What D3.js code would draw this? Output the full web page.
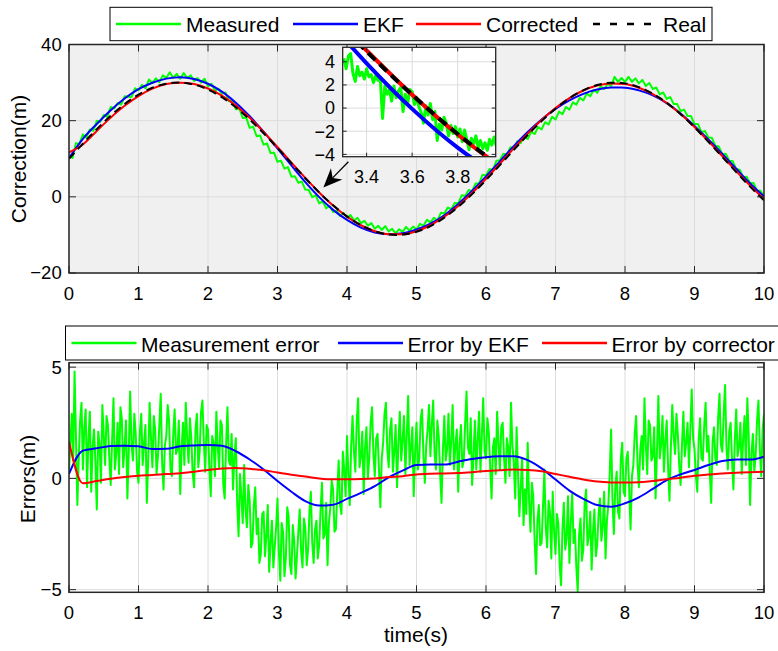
<!DOCTYPE html>
<html>
<head>
<meta charset="utf-8">
<script src="https://cdn.jsdelivr.net/npm/d3@7"></script>
<style>
  body { margin: 0; background: #fff; }
  svg { display: block; font-family: "Liberation Sans", Arial, Helvetica, sans-serif; }
</style>
</head>
<body>
<svg id="chart" width="778" height="651"></svg>
<script>
// ---- ticks / labels ----
const xTicks = [0, 1, 2, 3, 4, 5, 6, 7, 8, 9, 10];
const topYTicks = [-20, 0, 20, 40];
const errYTicks = [-5, 0, 5];
const insetXTicks = [3.4, 3.6, 3.8];
const insetYTicks = [-4, -2, 0, 2, 4];
const topLegend = ["Measured", "EKF", "Corrected", "Real"];
const errLegend = ["Measurement error", "Error by EKF", "Error by corrector"];

// ---- top panel series (position, m) ----
// real trajectory, every 0.1 s
const realPos = [
  10.00, 12.00, 13.97, 15.91, 17.79, 19.59, 21.29, 22.88, 24.35, 25.67,
  26.83, 27.82, 28.64, 29.27, 29.71, 29.95, 29.99, 29.83, 29.48, 28.93,
  28.19, 27.26, 26.17, 24.91, 23.51, 21.97, 20.31, 18.55, 16.70, 14.78,
  12.82, 10.83, 8.83, 6.85, 4.89, 2.98, 1.15, -0.60, -2.24, -3.76,
  -5.14, -6.37, -7.43, -8.32, -9.03, -9.55, -9.87, -10.00, -9.92, -9.65,
  -9.18, -8.52, -7.67, -6.65, -5.46, -4.11, -2.63, -1.01, 0.71, 2.52,
  4.41, 6.36, 8.34, 10.34, 12.33, 14.30, 16.23, 18.10, 19.88, 21.57,
  23.14, 24.58, 25.87, 27.01, 27.97, 28.76, 29.36, 29.76, 29.97, 29.98,
  29.79, 29.40, 28.81, 28.04, 27.09, 25.97, 24.69, 23.26, 21.70, 20.02,
  18.24, 16.38, 14.46, 12.49, 10.50, 8.50, 6.51, 4.56, 2.67, 0.85,
  -0.88
];
// EKF estimate, every 0.2 s
const ekfPos = [
  10.2, 15.22, 19.14, 22.75, 25.82, 28.27, 29.96, 31.04, 31.43, 30.96,
  29.69, 27.64, 24.73, 21.16, 17.10, 12.70, 8.23, 3.87, -0.07, -3.42,
  -6.06, -8.08, -9.38, -9.82, -9.57, -8.58, -7.05, -4.84, -1.88, 1.58,
  5.36, 9.33, 13.33, 17.05, 20.33, 23.09, 25.32, 27.05, 28.16, 28.70,
  28.67, 27.96, 26.62, 24.61, 21.88, 18.62, 15.06, 11.28, 7.36, 3.52,
  0.10
];
// corrected estimate, every 0.2 s
const correctedPos = [
  11.65, 13.75, 17.3, 20.8, 23.9, 26.45, 28.4, 29.6, 29.95, 29.6,
  28.45, 26.55, 23.95, 20.74, 17.07, 13.08, 8.99, 4.97, 1.15, -2.28,
  -5.18, -7.46, -9.03, -9.81, -9.82, -9.0, -7.46, -5.24, -2.39, 0.99,
  4.74, 8.71, 12.73, 16.61, 20.2, 23.34, 25.94, 27.92, 29.22, 29.79,
  29.6, 28.64, 26.97, 24.65, 21.73, 18.36, 14.63, 10.72, 6.76, 2.95,
  -0.58
];
// measured position, every 0.05 s
const measuredPos = [
  11.0, 10.2, 14.1, 13.9, 16.4, 15.6, 17.7, 17.3, 20.0, 19.7,
  21.5, 21.0, 23.6, 23.2, 24.6, 24.2, 26.4, 26.3, 26.2, 28.5,
  28.0, 29.4, 28.5, 30.8, 29.9, 31.1, 30.1, 31.9, 31.2, 32.7,
  31.2, 32.3, 31.0, 32.5, 31.2, 31.9, 30.4, 31.2, 30.0, 31.0,
  29.0, 29.7, 27.9, 28.4, 27.1, 27.4, 25.1, 25.3, 23.0, 23.2,
  20.7, 20.8, 18.1, 18.4, 15.9, 16.1, 13.7, 14.0, 11.5, 11.6,
  9.2, 9.5, 7.4, 7.8, 5.3, 5.4, 3.7, 4.0, 1.9, 1.8,
  -0.1, 0.4, -1.7, -1.2, -3.0, -2.4, -4.0, -3.6, -5.0, -4.2,
  -5.5, -4.8, -6.2, -5.5, -6.9, -6.3, -7.6, -6.9, -8.4, -7.6,
  -8.7, -7.7, -9.1, -8.4, -9.6, -8.5, -9.2, -7.9, -8.9, -7.8,
  -8.6, -7.1, -7.6, -6.0, -6.7, -5.5, -6.2, -4.2, -4.4, -2.8,
  -3.3, -1.6, -1.7, 0.4, 0.2, 1.8, 1.4, 3.5, 3.5, 5.8,
  5.6, 7.3, 7.0, 9.5, 9.6, 11.3, 11.1, 13.0, 12.8, 14.6,
  14.1, 15.9, 15.2, 17.1, 16.5, 18.3, 17.7, 19.6, 19.0, 21.0,
  20.3, 22.4, 21.7, 23.6, 22.9, 24.8, 24.2, 26.0, 25.3, 27.1,
  26.4, 28.1, 27.3, 29.0, 28.3, 29.7, 29.1, 31.5, 30.2, 31.2,
  30.2, 31.5, 30.2, 31.1, 29.8, 30.7, 29.1, 29.9, 28.3, 28.7,
  26.9, 27.4, 25.7, 26.2, 24.4, 24.4, 22.5, 22.9, 21.2, 21.2,
  19.1, 19.1, 17.0, 17.3, 15.6, 15.5, 13.4, 13.2, 11.2, 11.3,
  9.5, 9.4, 7.3, 7.1, 5.2, 5.3, 3.6, 3.6, 1.6, 1.6,
  0.1
];
// zoomed measured position for the inset, every 0.01 s from 3.30 s
const insetMeasured = [
  4.3, 3.4, 4.5, 4.7, 3.0, 2.3, 3.6, 2.8, 3.1, 2.5,
  3.4, 2.7, 2.9, 2.2, 2.8, 2.4, 2.6, -0.9, 1.9, 1.2,
  1.6, 0.6, 1.9, 0.9, 1.5, 1.8, -0.3, 1.2, 0.4, 1.6,
  1.4, 0.3, 0.9, 0.1, -0.4, -1.3, 0.2, -0.6, 0.4, -1.0,
  -0.3, -2.8, -1.4, -1.9, -0.8, -1.3, -2.4, -1.5, -2.2, -1.6,
  -2.5, -1.8, -2.9, -1.9, -2.7, -3.6, -2.6, -3.1, -2.4, -3.4,
  -2.8, -3.5, -3.0, -3.65, -2.7, -3.2, -2.5, -3.3
];

// ---- bottom panel series (error, m) ----
// measurement error, every 0.02 s
const measErr = [
  0.3, 1.6, 2.9, 0.8, 4.8, 1.9, -1.2, 0.9, 2.6, 3.4, 0.4, 2.3, 3.1, -0.4, 1.8, 3.0, -0.6, 1.4, 2.2, 0.7,
  -1.4, 2.1, 1.5, -0.2, 3.3, 1.9, 0.6, 2.8, 2.4, 0.9, -0.3, 1.7, 3.6, 0.4, 1.1, 2.5, 0.2, 3.2, 2.7, 0.5,
  1.4, 2.6, -0.9, 1.2, 3.9, 1.5, 0.8, 2.9, 2.0, 0.3, -0.2, 2.1, 2.9, 0.6, 1.6, 2.4, -1.1, 0.9, 3.4, 1.8,
  0.5, 2.8, 2.2, 0.2, 1.0, 2.4, 3.8, 0.7, -0.5, 1.5, 1.9, 3.3, 2.6, 0.4, 0.1, 2.0, 3.1, 1.1, 1.3, 2.6,
  -0.7, 1.3, 2.5, 0.6, 3.4, 1.8, 0.7, 2.7, 1.8, 0.2, -0.4, 2.2, 2.9, 0.5, 1.2, 3.0, 3.5, 1.6, 0.3, 2.4,
  2.2, 0.4, -0.8, 1.9, 1.6, 0.1, 3.0, 1.4, 0.5, 2.6, 2.4, -0.3, -0.9, 1.5, 3.2, 0.8, 0.6, 2.0, -0.5, 1.0,
  1.8, -1.1, -2.6, 0.2, -0.8, -2.0, 0.6, -1.4, -2.2, -0.3, -1.0, -3.1, -2.9, -1.2, -0.4, -2.5, -1.8, -3.8, -3.4, -1.6,
  -1.5, -3.5, -2.6, -1.2, -4.2, -2.9, -1.9, -4.0, -3.1, -2.2, -0.9, -3.3, -4.6, -2.0, -2.4, -4.4, -3.6, -1.3, -1.7, -3.9,
  -4.3, -2.1, -2.8, -4.5, -3.5, -2.4, -1.4, -3.3, -4.0, -1.8, -2.2, -3.9, -3.2, -1.5, -0.6, -2.9, -3.8, -2.3, -1.9, -3.6,
  -3.0, -1.4, -0.2, -2.7, -2.5, -1.1, -3.9, -2.0, -1.3, -0.1, -0.5, -2.4, -2.3, -0.6, 0.8, -1.2, -1.6, 1.2, 0.4, -0.8,
  1.9, 0.2, -1.2, 1.5, 2.8, 1.2, 0.3, 2.6, 3.6, 0.5, 1.0, 2.1, -0.7, 1.4, 2.3, 0.0, 0.9, 2.5, 3.2, 1.1,
  0.1, 1.8, 2.0, 0.4, -1.3, 0.9, 1.6, 2.9, 3.4, 1.3, 0.5, 2.2, 2.7, 0.3, 1.2, 2.4, -0.4, 1.6, 3.0, 0.8,
  1.7, 2.8, 0.2, 1.9, 3.7, 0.6, 1.4, 2.3, -0.8, 1.2, 2.5, 0.4, 0.9, 2.7, 3.1, 1.0, -0.2, 1.5, 2.2, 3.3,
  1.0, 2.4, 3.5, 1.1, 0.4, 2.6, 1.9, 0.2, -1.1, 1.3, 2.8, 0.8, 1.3, 2.9, 0.6, 1.7, 3.3, 0.4, 1.5, 2.2,
  -0.6, 1.6, 2.4, 0.5, 0.8, 2.5, 3.9, 1.4, 1.1, 2.7, -0.3, 1.0, 2.6, 0.4, 1.7, 3.0, 0.3, 1.9, 3.6, 1.2,
  0.9, 2.7, 2.1, 0.5, -0.9, 1.4, 1.8, 0.2, 3.0, 1.6, 0.4, 2.3, 2.5, 0.9, -0.2, 1.8, 1.4, 0.1, 3.4, 1.5,
  0.7, -0.9, 2.3, 0.3, -1.7, -0.4, 0.9, -2.1, -0.5, -1.6, 1.6, -1.0, -2.4, -0.2, -0.8, -2.8, -4.3, -1.9, -1.2, -3.0,
  -2.9, -1.3, 0.4, -2.2, -3.1, -1.0, -1.5, -3.6, -0.6, -2.4, -3.4, -1.6, -2.0, -3.9, -4.8, -2.3, -1.1, -3.2, -2.7, -0.8,
  -3.8, -2.0, -0.7, -2.9, -2.3, -4.0, -5.1, -2.5, -1.8, -3.7, -3.2, -1.1, -0.5, -3.0, -2.6, -1.5, -4.1, -2.4, -1.4, -3.5,
  -3.0, -1.6, -0.9, -2.8, -2.2, -0.6, -3.6, -1.9, -1.2, 0.2, 2.2, -1.0, -2.5, -0.4, 0.3, -1.5, -1.8, 0.9, 1.6, -0.6,
  -0.8, 0.9, 1.2, -0.5, -2.3, 0.1, 0.6, 2.0, 2.8, 0.7, -0.4, 1.3, 1.9, 0.4, 3.6, 1.5, 0.2, 2.6, 2.4, 0.8,
  1.0, 2.3, -0.9, 1.2, 3.7, 0.9, 1.5, 2.8, 0.3, 1.7, 2.6, 0.5, -1.0, 1.4, 3.3, 1.9, 1.1, 2.9, 2.0, 0.6,
  -0.3, 1.5, 3.0, 1.0, 1.6, 2.5, 0.5, 2.2, 4.0, 1.8, 1.3, 0.1, -0.6, 1.7, 2.7, 0.9, 0.8, 2.4, 3.4, 1.2,
  1.9, 0.3, -1.1, 1.6, 2.3, 0.9, 0.6, 2.7, 3.8, 1.5, 1.2, 2.9, 4.2, 1.4, 0.4, 2.1, 2.5, 0.8, -0.5, 1.7,
  3.1, 1.0, 1.4, 2.5, 0.2, 1.8, 2.8, 0.6, 3.6, 1.9, -1.2, 1.1, 2.0, 0.3, 1.0, 2.6, 3.5, 1.3, 0.1, 2.2,
  2.9
];
// EKF error, every 0.2 s
const ekfErr = [
  0.2, 1.25, 1.35, 1.46, 1.47, 1.44, 1.32, 1.33, 1.44, 1.48,
  1.5, 1.47, 1.22, 0.85, 0.4, -0.12, -0.6, -1.02, -1.22, -1.18,
  -0.92, -0.65, -0.35, 0.05, 0.35, 0.6, 0.62, 0.62, 0.75, 0.87,
  0.95, 0.99, 1.0, 0.82, 0.45, -0.05, -0.55, -0.92, -1.2, -1.27,
  -1.12, -0.85, -0.47, -0.08, 0.18, 0.38, 0.6, 0.78, 0.85, 0.85,
  0.98
];
// corrector error, every 0.2 s
const corrErr = [
  1.65, -0.22, -0.12, -0.02, 0.06, 0.12, 0.15, 0.2, 0.23, 0.3,
  0.38, 0.45, 0.47, 0.43, 0.37, 0.26, 0.16, 0.08, 0.0, -0.04,
  -0.04, -0.03, 0.0, 0.06, 0.1, 0.18, 0.21, 0.22, 0.24, 0.28,
  0.33, 0.37, 0.4, 0.38, 0.32, 0.2, 0.07, -0.05, -0.14, -0.18,
  -0.19, -0.17, -0.12, -0.04, 0.03, 0.12, 0.17, 0.22, 0.25, 0.28,
  0.3
];

// arrow annotation (time, value): tail then tip
const arrowFrom = [4.02, 9.2];
const arrowTo = [3.66, 2.47];

// ---- styles ----
const GREEN = "#00ff00", BLUE = "#0000ff", RED = "#ff0000", BLACK = "#000000";
const AXIS = "#262626", GRID = "#dcdcdc";
const TICK_FONT = 18.5, LABEL_FONT = 21, LEGEND_FONT = 21;

const svg = d3.select("#chart");
const fmtInt = d3.format("d");
const fmtDec = d3.format(".1f");

// scales
const x = d3.scaleLinear().domain([0, 10]).range([69, 764]);
const yTop = d3.scaleLinear().domain([-20, 40]).range([273, 44.5]);
const yErr = d3.scaleLinear().domain([-5.12, 5.2]).range([592.3, 362.7]);
const xIn = d3.scaleLinear().domain([3.295, 3.967]).range([342.7, 495.7]);
const yIn = d3.scaleLinear().domain([-4.2, 5.25]).range([156.7, 47.3]);

function series(values, start, step) {
  return values.map((v, i) => [start + i * step, v]);
}

function addClip(id, sx, sy) {
  const [x0, x1] = sx.range();
  const [y0, y1] = sy.range();
  svg.append("clipPath").attr("id", id)
    .append("rect")
    .attr("x", x0).attr("y", y1)
    .attr("width", x1 - x0).attr("height", y0 - y1);
}

function drawBack(sx, sy, xt, yt, bg) {
  const [x0, x1] = sx.range();
  const [y0, y1] = sy.range();
  const g = svg.append("g");
  g.append("rect")
    .attr("x", x0).attr("y", y1)
    .attr("width", x1 - x0).attr("height", y0 - y1)
    .attr("fill", bg);
  g.selectAll(".gx").data(xt).join("line")
    .attr("x1", d => sx(d)).attr("x2", d => sx(d))
    .attr("y1", y0).attr("y2", y1)
    .attr("stroke", GRID).attr("stroke-width", 1);
  g.selectAll(".gy").data(yt).join("line")
    .attr("y1", d => sy(d)).attr("y2", d => sy(d))
    .attr("x1", x0).attr("x2", x1)
    .attr("stroke", GRID).attr("stroke-width", 1);
  return g;
}

function drawLine(clipId, sx, sy, pts, color, width, dash, curve) {
  const line = d3.line()
    .x(d => sx(d[0])).y(d => sy(d[1]))
    .curve(curve || d3.curveLinear);
  svg.append("path")
    .attr("clip-path", `url(#${clipId})`)
    .attr("d", line(pts))
    .attr("fill", "none")
    .attr("stroke", color)
    .attr("stroke-width", width)
    .attr("stroke-linejoin", "round")
    .attr("stroke-dasharray", dash || null);
}

function drawAxes(sx, sy, xt, yt, opts) {
  const [x0, x1] = sx.range();
  const [y0, y1] = sy.range();
  const g = svg.append("g");
  const tl = opts.tickLen;
  // ticks on all four sides (inward)
  xt.forEach(d => {
    g.append("line").attr("x1", sx(d)).attr("x2", sx(d)).attr("y1", y0).attr("y2", y0 - tl)
      .attr("stroke", AXIS).attr("stroke-width", 1);
    g.append("line").attr("x1", sx(d)).attr("x2", sx(d)).attr("y1", y1).attr("y2", y1 + tl)
      .attr("stroke", AXIS).attr("stroke-width", 1);
  });
  yt.forEach(d => {
    g.append("line").attr("y1", sy(d)).attr("y2", sy(d)).attr("x1", x0).attr("x2", x0 + tl)
      .attr("stroke", AXIS).attr("stroke-width", 1);
    g.append("line").attr("y1", sy(d)).attr("y2", sy(d)).attr("x1", x1).attr("x2", x1 - tl)
      .attr("stroke", AXIS).attr("stroke-width", 1);
  });
  g.append("rect")
    .attr("x", x0).attr("y", y1)
    .attr("width", x1 - x0).attr("height", y0 - y1)
    .attr("fill", "none").attr("stroke", AXIS).attr("stroke-width", opts.boxWidth);

  g.selectAll(".xl").data(xt).join("text")
    .attr("x", d => sx(d)).attr("y", y0 + opts.xLabelGap)
    .attr("text-anchor", "middle")
    .attr("font-size", opts.fontSize)
    .attr("fill", "#000")
    .text(opts.fmtX);
  g.selectAll(".yl").data(yt).join("text")
    .attr("x", x0 - opts.yLabelGap).attr("y", d => sy(d))
    .attr("dy", "0.35em")
    .attr("text-anchor", "end")
    .attr("font-size", opts.fontSize)
    .attr("fill", "#000")
    .text(opts.fmtY);
}

function drawLegend(box, items, lineStarts, textOffset, baseline) {
  const g = svg.append("g");
  g.append("rect")
    .attr("x", box.x).attr("y", box.y).attr("width", box.w).attr("height", box.h)
    .attr("fill", "#fff").attr("stroke", BLACK).attr("stroke-width", 1);
  items.forEach((it, i) => {
    const lx = lineStarts[i];
    g.append("line")
      .attr("x1", lx).attr("x2", lx + 65)
      .attr("y1", box.y + box.h / 2).attr("y2", box.y + box.h / 2)
      .attr("stroke", it.color).attr("stroke-width", 2.5)
      .attr("stroke-dasharray", it.dash || null);
    g.append("text")
      .attr("x", lx + textOffset).attr("y", baseline)
      .attr("font-size", LEGEND_FONT)
      .attr("fill", "#000")
      .text(it.name);
  });
}

// ================= TOP PANEL =================
addClip("clipTop", x, yTop);
drawBack(x, yTop, xTicks, topYTicks, "#f0f0f0");
drawLine("clipTop", x, yTop, series(measuredPos, 0, 0.05), GREEN, 2);
drawLine("clipTop", x, yTop, series(ekfPos, 0, 0.2), BLUE, 2, null, d3.curveMonotoneX);
drawLine("clipTop", x, yTop, series(correctedPos, 0, 0.2), RED, 2, null, d3.curveMonotoneX);
drawLine("clipTop", x, yTop, series(realPos, 0, 0.1), BLACK, 2, "8,5", d3.curveMonotoneX);
drawAxes(x, yTop, xTicks, topYTicks, {
  tickLen: 7, boxWidth: 1.5, fontSize: TICK_FONT,
  xLabelGap: 27, yLabelGap: 7.3, fmtX: fmtInt, fmtY: fmtInt
});

// arrow pointing at the zoomed region
(function () {
  const tail = [x(arrowFrom[0]), yTop(arrowFrom[1])];
  const tip = [x(arrowTo[0]), yTop(arrowTo[1])];
  const dx = tail[0] - tip[0], dy = tail[1] - tip[1];
  const len = Math.hypot(dx, dy);
  const ux = dx / len, uy = dy / len;
  const nx = -uy, ny = ux;
  const L = 19, hw = 8;
  const base = [tip[0] + ux * L, tip[1] + uy * L];
  const notch = [tip[0] + ux * L * 0.7, tip[1] + uy * L * 0.7];
  svg.append("line")
    .attr("x1", notch[0]).attr("y1", notch[1])
    .attr("x2", tail[0]).attr("y2", tail[1])
    .attr("stroke", BLACK).attr("stroke-width", 1.3);
  svg.append("path")
    .attr("d", `M${tip[0]},${tip[1]}L${base[0] + nx * hw},${base[1] + ny * hw}` +
      `L${notch[0]},${notch[1]}L${base[0] - nx * hw},${base[1] - ny * hw}Z`)
    .attr("fill", BLACK);
})();

// inset
addClip("clipIn", xIn, yIn);
drawBack(xIn, yIn, insetXTicks, insetYTicks, "#ffffff");
drawLine("clipIn", xIn, yIn, series(insetMeasured, 3.30, 0.01), GREEN, 3);
drawLine("clipIn", xIn, yIn, series(ekfPos, 0, 0.2), BLUE, 4, null, d3.curveMonotoneX);
drawLine("clipIn", xIn, yIn, series(correctedPos, 0, 0.2), RED, 4, null, d3.curveMonotoneX);
drawLine("clipIn", xIn, yIn, series(realPos, 0, 0.1), BLACK, 4, "10,6", d3.curveMonotoneX);
drawAxes(xIn, yIn, insetXTicks, insetYTicks, {
  tickLen: 4, boxWidth: 1.3, fontSize: 18,
  xLabelGap: 26, yLabelGap: 7.7, fmtX: fmtDec, fmtY: fmtInt
});

// top legend
drawLegend({ x: 110, y: 7.3, w: 602, h: 33.4 }, [
  { name: topLegend[0], color: GREEN },
  { name: topLegend[1], color: BLUE },
  { name: topLegend[2], color: RED },
  { name: topLegend[3], color: BLACK, dash: "7,10" }
], [116, 293, 416, 593], 70, 32.3);

svg.append("text")
  .attr("transform", "translate(26,159) rotate(-90)")
  .attr("text-anchor", "middle")
  .attr("font-size", LABEL_FONT)
  .attr("fill", "#000")
  .text("Correction(m)");

// ================= BOTTOM PANEL =================
addClip("clipErr", x, yErr);
drawBack(x, yErr, xTicks, errYTicks, "#ffffff");
drawLine("clipErr", x, yErr, series(measErr, 0, 0.02), GREEN, 2);
drawLine("clipErr", x, yErr, series(ekfErr, 0, 0.2), BLUE, 2, null, d3.curveMonotoneX);
drawLine("clipErr", x, yErr, series(corrErr, 0, 0.2), RED, 2, null, d3.curveMonotoneX);
drawAxes(x, yErr, xTicks, errYTicks, {
  tickLen: 7, boxWidth: 1.5, fontSize: TICK_FONT,
  xLabelGap: 27, yLabelGap: 7.3, fmtX: fmtInt, fmtY: fmtInt
});

drawLegend({ x: 65.5, y: 326, w: 720, h: 34 }, [
  { name: errLegend[0], color: GREEN },
  { name: errLegend[1], color: BLUE },
  { name: errLegend[2], color: RED }
], [71.5, 338, 542], 69.5, 351.7);

svg.append("text")
  .attr("transform", "translate(35,479) rotate(-90)")
  .attr("text-anchor", "middle")
  .attr("font-size", LABEL_FONT)
  .attr("fill", "#000")
  .text("Errors(m)");

svg.append("text")
  .attr("x", 416).attr("y", 642)
  .attr("text-anchor", "middle")
  .attr("font-size", LABEL_FONT)
  .attr("fill", "#000")
  .text("time(s)");
</script>
</body>
</html>
